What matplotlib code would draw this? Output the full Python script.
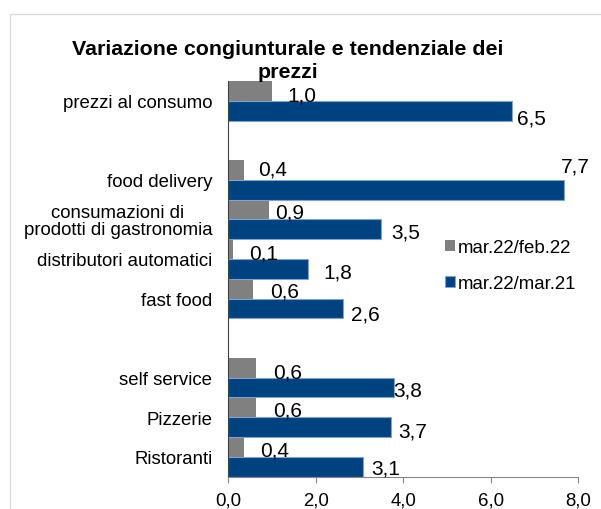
import matplotlib
matplotlib.use("Agg")
import matplotlib.pyplot as plt
from matplotlib.patches import Rectangle

plt.rcParams['font.family'] = ['Liberation Sans', 'DejaVu Sans']

# categorie dall'alto verso il basso, le stringhe vuote sono le righe vuote
categories = ["prezzi al consumo", "", "food delivery",
              "consumazioni di\nprodotti di gastronomia", "distributori automatici",
              "fast food", "", "self service", "Pizzerie", "Ristoranti"]
var_cong = [1.0, None, 0.37, 0.92, 0.11, 0.56, None, 0.63, 0.63, 0.37]    # mar.22/feb.22
var_tend = [6.49, None, 7.69, 3.49, 1.82, 2.63, None, 3.80, 3.72, 3.09]   # mar.22/mar.21
series_names = ["mar.22/feb.22", "mar.22/mar.21"]
xticks = [0, 2, 4, 6, 8]
title = "Variazione congiunturale e tendenziale dei\nprezzi"

# spostamento delle etichette in pixel (dx, dy verso il basso)
off_cong = [(15, 2), None, (14, -3), (7, 0), (16, 2), (17, 0), None, (17, 2), (17, 1), (16, 1)]
off_tend = [(5, 5), None, (-4, -26), (10, 1), (16, 1), (8, 4), None, (-1, 0), (7, 2), (8, -1)]

GRAY = '#808080'
BLUE = '#00427F'

W, H = 601, 510
fig = plt.figure(figsize=(W / 100, H / 100), dpi=100)
ax = fig.add_axes([228.3 / W, (H - 477.5) / H, (578 - 228.3) / W, (477.5 - 82) / H])

n = len(categories)
ypos = [n - 1 - i for i in range(n)]

y_c = [ypos[i] + 0.25 for i in range(n) if var_cong[i] is not None]
v_c = [v for v in var_cong if v is not None]
y_t = [ypos[i] - 0.25 for i in range(n) if var_tend[i] is not None]
v_t = [v for v in var_tend if v is not None]

ax.barh(y_c, v_c, height=0.5, color=GRAY, label=series_names[0])
ax.barh(y_t, v_t, height=0.5, color=BLUE, edgecolor='#7DA3CF', linewidth=0.8,
        label=series_names[1])

def lab(v):
    return ("%.1f" % v).replace('.', ',')

for i in range(n):
    if var_cong[i] is not None:
        dx, dy = off_cong[i]
        ax.annotate(lab(var_cong[i]), xy=(var_cong[i], ypos[i] + 0.25),
                    xytext=(dx, -(dy + 2)), textcoords='offset pixels',
                    ha='left', va='center', fontsize=15, annotation_clip=False)
    if var_tend[i] is not None:
        dx, dy = off_tend[i]
        ax.annotate(lab(var_tend[i]), xy=(var_tend[i], ypos[i] - 0.25),
                    xytext=(dx, -(dy + 2)), textcoords='offset pixels',
                    ha='left', va='center', fontsize=15, annotation_clip=False)

ax.set_ylim(-0.5, n - 0.5)
ax.set_xlim(0, 8)
ax.set_yticks(ypos)
ax.set_yticklabels(categories, fontsize=13.4)
for t in ax.get_yticklabels():
    t.set_multialignment('center')
    t.set_linespacing(1.0)
ax.set_xticks(xticks)
ax.set_xticklabels([lab(t) for t in xticks], fontsize=13.4)
ax.tick_params(axis='y', length=0, pad=11.5)
ax.tick_params(axis='x', length=4.5, width=0.8, color='#868686', pad=6.2)

for s in ['top', 'right']:
    ax.spines[s].set_visible(False)
ax.spines['left'].set_color('#404040')
ax.spines['bottom'].set_color('#868686')

ax.legend(loc='center left', bbox_to_anchor=(0.619, 0.533), frameon=False,
          fontsize=13.4, handlelength=0.55, handleheight=0.55,
          handletextpad=0.15, labelspacing=1.05, borderpad=0, borderaxespad=0)

fig.text(287.5 / W, 1 - 40 / H, title, ha='center', va='top', fontsize=15.4,
         fontweight='bold', multialignment='center', linespacing=1.3)

# cornice grigia del grafico
fig.add_artist(Rectangle((9.5 / W, -0.05), 1.0, 1 - 15 / H + 0.05,
                         transform=fig.transFigure, fill=False,
                         edgecolor='#d9d9d9', linewidth=1))

fig.savefig('out.png', dpi=100)
